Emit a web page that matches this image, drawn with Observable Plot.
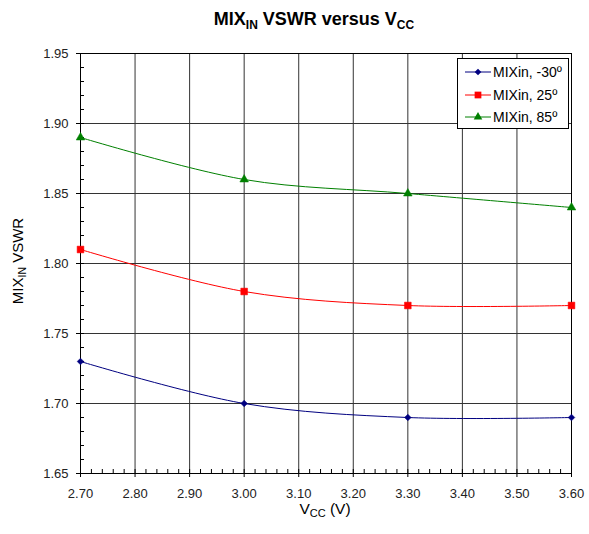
<!DOCTYPE html>
<html><head><meta charset="utf-8">
<script src="https://cdn.jsdelivr.net/npm/d3@7"></script>
<script src="https://cdn.jsdelivr.net/npm/@observablehq/plot@0.6"></script>
<style>
body{margin:0;background:#fff;}
#chart{width:589px;height:534px;}
</style>
</head><body><div id="chart"></div>
<script>
const vcc = [2.70, 3.00, 3.30, 3.60];
const vswrMinus30 = [1.73, 1.70, 1.69, 1.69];
const vswr25 = [1.81, 1.78, 1.77, 1.77];
const vswr85 = [1.89, 1.86, 1.85, 1.84];
const seriesNames = ["MIXin, -30º", "MIXin, 25º", "MIXin, 85º"];
const seriesColors = ["#000080", "#FF0000", "#008000"];
const seriesSymbols = ["diamond2", "square", "triangle"];
const seriesSizes = [3, 3.8, 3.2];
const xTicks = [2.70, 2.80, 2.90, 3.00, 3.10, 3.20, 3.30, 3.40, 3.50, 3.60];
const yTicks = [1.65, 1.70, 1.75, 1.80, 1.85, 1.90, 1.95];

const xMinor = d3.range(0, 46).map(i => +(2.70 + i * 0.02).toFixed(2));
const yMinor = d3.range(0, 31).map(i => +(1.65 + i * 0.01).toFixed(2));

const data = [];
[vswrMinus30, vswr25, vswr85].forEach((vals, s) =>
  vals.forEach((v, i) => data.push({series: seriesNames[s], idx: s, vcc: vcc[i], vswr: v})));

const font = "Arial, 'Liberation Sans', sans-serif";
const fmt = d3.format(".2f");

const plot = Plot.plot({
  width: 589, height: 534,
  marginTop: 53, marginBottom: 61, marginLeft: 80, marginRight: 18,
  style: {fontFamily: font, fontSize: "13px", color: "#000", background: "#fff", overflow: "visible"},
  x: {domain: [2.70, 3.60], label: null},
  y: {domain: [1.65, 1.95], label: null},
  color: {domain: seriesNames, range: seriesColors},
  symbol: {domain: seriesNames, range: seriesSymbols},
  marks: [
    Plot.gridX(xTicks, {stroke: "#333", strokeOpacity: 1}),
    Plot.gridY(yTicks, {stroke: "#333", strokeOpacity: 1}),
    Plot.axisX(xMinor, {tickSize: 4, dy: -4, fill: "none", label: null, stroke: "#000"}),
    Plot.axisY(yMinor, {tickSize: 4, dx: 4, fill: "none", label: null, stroke: "#000"}),
    Plot.axisX(xTicks, {tickSize: 4, tickPadding: 11, tickFormat: fmt, label: null, stroke: "#000", fill: "#222"}),
    Plot.axisY(yTicks, {tickSize: 4, tickPadding: 8, tickFormat: fmt, label: null, stroke: "#000", fill: "#222"}),
    Plot.frame({stroke: "#000"}),
    Plot.line(data, {x: "vcc", y: "vswr", z: "series", stroke: "series", curve: "catmull-rom", strokeWidth: 1}),
    ...seriesNames.map((name, s) =>
      Plot.dot(data.filter(d => d.idx === s), {x: "vcc", y: "vswr", fill: seriesColors[s], stroke: seriesColors[s], strokeWidth: 0.5, symbol: seriesSymbols[s], r: seriesSizes[s]}))
  ]
});

document.getElementById("chart").appendChild(plot);
const svg = d3.select(plot);

// Title
const title = svg.append("text")
  .attr("x", 314).attr("y", 25).attr("text-anchor", "middle")
  .attr("font-family", font).attr("font-weight", "bold").attr("font-size", 18).attr("fill", "#000");
title.append("tspan").text("MIX");
title.append("tspan").attr("font-size", 12).attr("dy", 4).text("IN");
title.append("tspan").attr("dy", -4).text(" VSWR versus V");
title.append("tspan").attr("font-size", 12).attr("dy", 4).text("CC");

// Y label
const yl = svg.append("text")
  .attr("transform", "translate(23,261) rotate(-90)").attr("text-anchor", "middle")
  .attr("font-family", font).attr("font-size", 15).attr("fill", "#000");
yl.append("tspan").text("MIX");
yl.append("tspan").attr("font-size", 10.5).attr("dy", 3).text("IN");
yl.append("tspan").attr("dy", -3).text(" VSWR");

// X label
const xl = svg.append("text")
  .attr("x", 325).attr("y", 514).attr("text-anchor", "middle")
  .attr("font-family", font).attr("font-size", 15.5).attr("fill", "#000");
xl.append("tspan").text("V");
xl.append("tspan").attr("font-size", 11).attr("dy", 3).text("CC");
xl.append("tspan").attr("dy", -3).text(" (V)");

// Legend
const lg = svg.append("g");
lg.append("rect").attr("x", 457.5).attr("y", 58.5).attr("width", 111).attr("height", 70)
  .attr("fill", "#fff").attr("stroke", "#000");
const symMap = {diamond2: d3.symbolDiamond2, square: d3.symbolSquare, triangle: d3.symbolTriangle};
const legendY = [72, 95, 117];
seriesNames.forEach((name, s) => {
  const y = legendY[s];
  lg.append("line").attr("x1", 465).attr("x2", 491).attr("y1", y).attr("y2", y)
    .attr("stroke", seriesColors[s]).attr("stroke-width", 1);
  lg.append("path").attr("transform", `translate(478,${y})`)
    .attr("d", d3.symbol(symMap[seriesSymbols[s]], Math.PI * seriesSizes[s] ** 2)())
    .attr("fill", seriesColors[s]);
  lg.append("text").attr("x", 493).attr("y", y).attr("dy", "0.35em").attr("text-anchor", "start")
    .attr("font-family", font).attr("font-size", 14).attr("fill", "#000").text(name);
});
</script>
</body></html>
